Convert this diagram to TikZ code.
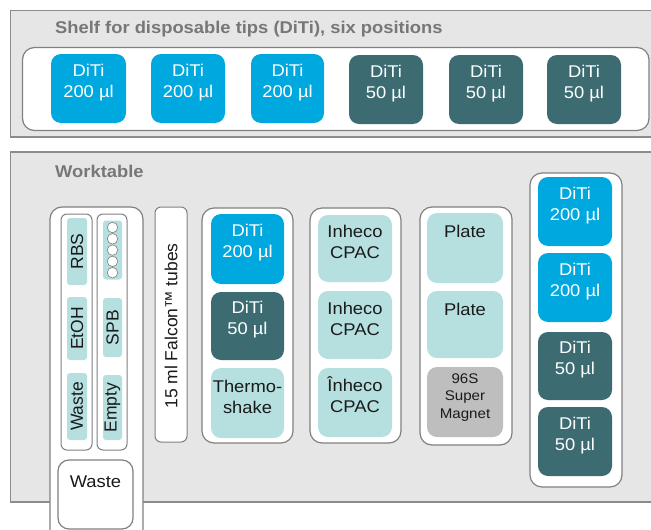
\documentclass[tikz,border=0pt]{standalone}
\usepackage{fontspec}
\setmainfont{Liberation Sans}[FakeStretch=1.08]
\newfontfamily\plainsans{Liberation Sans}
\usetikzlibrary{fit}
\definecolor{cBlue}{HTML}{00A8E0}
\definecolor{cTeal}{HTML}{3C6B72}
\definecolor{cLight}{HTML}{B6DFE0}
\definecolor{cMag}{HTML}{BEBEBE}
\definecolor{cPanel}{HTML}{E6E6E6}
\definecolor{cPanelLine}{HTML}{8C8C8C}
\definecolor{cLine}{HTML}{808080}
\definecolor{cTitle}{HTML}{777777}
\definecolor{cText}{HTML}{1A1A1A}
\tikzset{
  panel/.style={draw=cPanelLine, fill=cPanel, line width=1.4pt},
  grp/.style={draw=cLine, fill=white, line width=1.2pt, rounded corners=12pt, inner sep=0pt},
  col/.style={draw=cLine, fill=white, line width=1pt, rounded corners=6pt, inner sep=0pt},
  box/.style={rectangle, rounded corners=10pt, inner sep=0pt, align=center,
    font=\fontsize{17}{21}\selectfont},
  dtwo/.style={box, fill=cBlue, text=white},
  dfive/.style={box, fill=cTeal, text=white},
  lt/.style={box, fill=cLight, text=cText},
  mag/.style={box, fill=cMag, text=cText, font=\fontsize{14}{17.5}\selectfont},
  citem/.style={rectangle, rounded corners=3pt, inner sep=0pt, fill=cLight, text=cText,
    rotate=90, font=\plainsans\fontsize{17.5}{20}\selectfont},
  title/.style={anchor=base west, text=cTitle, font=\bfseries\fontsize{17}{20}\selectfont, inner sep=0pt},
  tube/.style={circle, draw=cLine, fill=white, line width=0.6pt, minimum size=10.5pt, inner sep=0pt},
  platelabel/.style={anchor=north, yshift=-12pt, inner sep=0pt, font=\fontsize{17}{20}\selectfont, text=cText}
}
\begin{document}
\begin{tikzpicture}[x=1pt,y=-1pt]
\clip (0,0) rectangle (651,530);
\fill[white] (0,0) rectangle (651,530);
% Shelf panel
\draw[panel] (10.5,10.5) rectangle (680,137);
\node[title] (shelftitle) at (55,33) {Shelf for disposable tips (DiTi), six positions};
\node[grp, fit={(22.5,47.5) (649,130.5)}] (shelf) {};
\node[dtwo, fit={(51,54) (126,123)}] (s1) {DiTi\\200 µl};
\node[dtwo, fit={(151,54) (225,123)}] (s2) {DiTi\\200 µl};
\node[dtwo, fit={(251,54) (324,123)}] (s3) {DiTi\\200 µl};
\node[dfive, fit={(349,55) (423,124)}] (s4) {DiTi\\50 µl};
\node[dfive, fit={(449,55) (523,124)}] (s5) {DiTi\\50 µl};
\node[dfive, fit={(547,55) (621,124)}] (s6) {DiTi\\50 µl};
% Worktable panel
\draw[panel] (10.5,152) rectangle (680,502);
\node[title] (wttitle) at (55,177) {Worktable};
% Left group
\node[grp, fit={(50,207) (143,560)}] (g1) {};
\node[col, fit={(61,214) (92,450)}] (c1) {};
\node[col, fit={(97,214) (127,450)}] (c2) {};
\node[citem, minimum width=67pt, minimum height=20pt] (rbs) at (77,251.5) {RBS};
\node[citem, minimum width=63pt, minimum height=20pt] (etoh) at (77,328.5) {EtOH};
\node[citem, minimum width=67pt, minimum height=20pt] (wastec) at (77,406.5) {Waste};
\node[citem, minimum width=59pt, minimum height=19pt] (tubes) at (112.5,250) {};
\node[tube] (t1) at (112.5,227.5) {};
\node[tube] (t2) at (112.5,238.8) {};
\node[tube] (t3) at (112.5,250.1) {};
\node[tube] (t4) at (112.5,261.4) {};
\node[tube] (t5) at (112.5,272.7) {};
\node[citem, minimum width=59pt, minimum height=19pt] (spb) at (112.5,327.5) {SPB};
\node[citem, minimum width=65pt, minimum height=19pt] (empty) at (112.5,407.5) {Empty};
\node[grp, fit={(58,460) (133,529)}, rounded corners=11pt] (wasteb) {};
\node[font=\fontsize{17}{20}\selectfont, text=cText, inner sep=0pt] (wastet) at (95.5,482) {Waste};
% Falcon
\node[col, fit={(155,207) (187,442)}] (falconbox) {};
\node[rotate=90, font=\plainsans\fontsize{17.5}{20}\selectfont, text=cText, inner sep=0pt] (falcon) at (171,326) {15 ml Falcon™ tubes};
% Group 3
\node[grp, fit={(202,208) (293,443)}] (g3) {};
\node[dtwo, fit={(211,214) (284,284)}] (g3a) {DiTi\\200 µl};
\node[dfive, fit={(211,292) (284,360)}] (g3b) {DiTi\\50 µl};
\node[lt, fit={(211,368) (284,438)}] (g3c) {Thermo-\\shake};
% Group 4
\node[grp, fit={(310,208) (401,443)}] (g4) {};
\node[lt, fit={(318,215) (392,282)}] (g4a) {Inheco\\CPAC};
\node[lt, fit={(318,291) (392,359)}] (g4b) {Inheco\\CPAC};
\node[lt, fit={(318,368) (392,437)}] (g4c) {Înheco\\CPAC};
% Group 5
\node[grp, fit={(420,207) (512,445)}] (g5) {};
\node[lt, fit={(427,213) (503,283)}, label={[platelabel]north:Plate}] (g5a) {};
\node[lt, fit={(427,291) (503,358)}, label={[platelabel]north:Plate}] (g5b) {};
\node[mag, fit={(427,367) (503,437)}] (g5c) {96S\\Super\\Magnet};
% Group 6
\node[grp, fit={(530,173) (622,487)}] (g6) {};
\node[dtwo, fit={(538,177) (612,246)}] (g6a) {DiTi\\200 µl};
\node[dtwo, fit={(538,253) (612,322)}] (g6b) {DiTi\\200 µl};
\node[dfive, fit={(538,332) (612,400)}] (g6c) {DiTi\\50 µl};
\node[dfive, fit={(538,407) (612,476)}] (g6d) {DiTi\\50 µl};
\end{tikzpicture}
\end{document}
